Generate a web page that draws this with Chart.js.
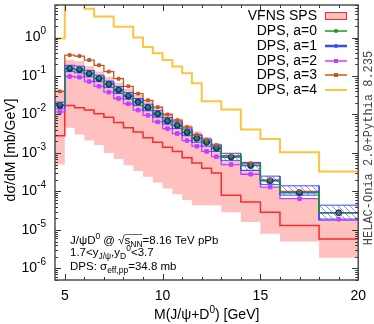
<!DOCTYPE html>
<html>
<head>
<meta charset="utf-8">
<script src="https://cdn.jsdelivr.net/npm/chart.js@4.4.1/dist/chart.umd.min.js"></script>
<style>
  body { margin: 0; background: #fff; }
  canvas { display: block; }
</style>
</head>
<body>
<canvas id="chart" width="374" height="324"></canvas>
<script>
// bin edges in M(J/psi+D0) [GeV]
const binEdges = [4.5, 5, 5.5, 6, 6.5, 7, 7.5, 8, 8.5, 9, 9.5, 10, 10.5, 11, 11.5, 12, 12.5, 13, 14, 15, 16, 18, 20];

// VFNS SPS: central line and uncertainty band
const spsCentral = [0.0028, 0.017, 0.015, 0.013, 0.0105, 0.0085, 0.0062, 0.0045, 0.0035, 0.0025, 0.0019, 0.0014, 0.0011, 0.00075, 0.00055, 0.0004, 0.0003, 0.00008, 0.000053, 0.000029, 0.000013, 0.0000058];
const spsUpper = [0.043, 0.26, 0.24, 0.18, 0.13, 0.095, 0.066, 0.046, 0.032, 0.023, 0.016, 0.011, 0.0078, 0.0053, 0.0036, 0.0026, 0.0018, 0.0006, 0.00038, 0.00013, 0.000065, 0.000018];
const spsLower = [0.0005, 0.0045, 0.003, 0.0021, 0.0016, 0.001, 0.0007, 0.00048, 0.00034, 0.00024, 0.00017, 0.00012, 0.000085, 0.00006, 0.000044, 0.000044, 0.000044, 0.000029, 0.000016, 0.000008, 0.000005, 0.0000019];

// DPS for different a
const dpsA0 = [0.018, 0.16, 0.15, 0.118, 0.088, 0.062, 0.044, 0.031, 0.021, 0.0155, 0.0105, 0.0069, 0.0053, 0.0035, 0.0024, 0.0019, 0.00135, 0.0008, 0.00048, 0.00019, 0.000095, 0.000028];
const dpsA1 = [0.017, 0.155, 0.145, 0.115, 0.086, 0.061, 0.043, 0.030, 0.021, 0.0152, 0.0103, 0.0068, 0.0052, 0.0034, 0.0024, 0.0019, 0.00133, 0.00078, 0.00047, 0.00019, 0.000093, 0.000028];
const dpsA1Up = [0.021, 0.19, 0.18, 0.14, 0.105, 0.074, 0.053, 0.037, 0.026, 0.0185, 0.0126, 0.0083, 0.0064, 0.0042, 0.0029, 0.0023, 0.0016, 0.00098, 0.00057, 0.00025, 0.00014, 0.000044];
const dpsA1Down = [0.014, 0.13, 0.12, 0.095, 0.071, 0.05, 0.035, 0.025, 0.017, 0.0125, 0.0085, 0.0056, 0.0043, 0.0028, 0.0019, 0.0015, 0.0011, 0.00063, 0.00035, 0.00015, 0.00008, 0.000018];
const dpsA2 = [0.0117, 0.097, 0.093, 0.072, 0.054, 0.038, 0.026, 0.019, 0.013, 0.0095, 0.0064, 0.0043, 0.0032, 0.0021, 0.0015, 0.0011, 0.0008, 0.0005, 0.00028, 0.00013, 0.000065, 0.000019];
const dpsA3 = [0.040, 0.35, 0.33, 0.26, 0.19, 0.13, 0.085, 0.054, 0.035, 0.0234, 0.0155, 0.0100, 0.0071, 0.0047, 0.0030, 0.0022, 0.0016, 0.00085, 0.00054, 0.0002, 0.0001, 0.000028];
const dpsA4 = [0.95, 30, 12, 5.6, 3.5, 3.5, 1.9, 1.9, 1.0, 0.57, 0.39, 0.26, 0.176, 0.118, 0.065, 0.022, 0.022, 0.0134, 0.0041, 0.0023, 0.00104, 0.00033];

const xMajorTicks = [5, 10, 15, 20];
const yMajorTicks = [1e-6, 1e-5, 1e-4, 1e-3, 1e-2, 1e-1, 1];

const legendLabels = ['VFNS SPS', 'DPS, a=0', 'DPS, a=1', 'DPS, a=2', 'DPS, a=3', 'DPS, a=4'];

const RED = '#ff2a2a', PINK = 'rgba(255,150,150,0.6)', GREEN = '#1f9a1f', BLUE = '#3a4bff',
      MAGENTA = '#c040ff', ORANGE = '#cc5520', YELLOW = '#ffc43f';

function stepPts(vals) {
  const pts = [];
  vals.forEach((v, i) => {
    pts.push({ x: binEdges[i], y: v });
    pts.push({ x: binEdges[i + 1], y: v });
  });
  return pts;
}
function centerPts(vals) {
  return vals.map((v, i) => ({ x: (binEdges[i] + binEdges[i + 1]) / 2, y: v }));
}

// hatch pattern for the a=1 band
function hatch() {
  const c = document.createElement('canvas');
  c.width = 6; c.height = 6;
  const g = c.getContext('2d');
  g.strokeStyle = 'rgba(60,80,255,0.8)';
  g.lineWidth = 0.8;
  g.beginPath();
  g.moveTo(0, 0); g.lineTo(6, 6);
  g.moveTo(-3, 3); g.lineTo(3, 9);
  g.moveTo(3, -3); g.lineTo(9, 3);
  g.stroke();
  return g.createPattern(c, 'repeat');
}

function line(data, color, width, order, extra) {
  return Object.assign({ data: stepPts(data), borderColor: color, borderWidth: width, pointRadius: 0,
    fill: false, order: order }, extra || {});
}
function marks(data, color, style, r, order) {
  return { data: centerPts(data), showLine: false, pointStyle: style, pointRadius: r,
    backgroundColor: color, borderColor: color, borderWidth: 1, order: order };
}

// inner tick marks, frame and all the text pieces
const decor = {
  id: 'decor',
  afterDatasetsDraw(chart) {
    const { ctx, chartArea: a, scales: { x, y } } = chart;
    ctx.save();
    ctx.strokeStyle = '#333';
    ctx.lineWidth = 1;
    ctx.beginPath();
    for (let d = -7; d <= 0; d++) {
      for (let m = 1; m <= 9; m++) {
        const v = m * Math.pow(10, d);
        if (v < 5e-7 || v > 7) continue;
        const py = Math.round(y.getPixelForValue(v)) + 0.5;
        const len = m === 1 ? 6 : 3;
        ctx.moveTo(a.left, py); ctx.lineTo(a.left + len, py);
        ctx.moveTo(a.right, py); ctx.lineTo(a.right - len, py);
      }
    }
    for (let v = 5; v <= 20; v++) {
      const px = Math.round(x.getPixelForValue(v)) + 0.5;
      const len = v % 5 === 0 ? 6 : 3;
      ctx.moveTo(px, a.bottom); ctx.lineTo(px, a.bottom - len);
      ctx.moveTo(px, a.top); ctx.lineTo(px, a.top + len);
    }
    ctx.stroke();
    ctx.lineWidth = 1.4;
    ctx.strokeStyle = '#444';
    ctx.strokeRect(a.left, a.top, a.right - a.left, a.bottom - a.top);

    // y tick labels 10^n
    ctx.fillStyle = '#000';
    ctx.textBaseline = 'middle';
    yMajorTicks.forEach(v => {
      const py = y.getPixelForValue(v);
      const e = String(Math.round(Math.log10(v)));
      ctx.font = '10px "Liberation Sans", Arial, sans-serif';
      const ew = ctx.measureText(e).width;
      ctx.textAlign = 'left';
      ctx.fillText(e, 46 - ew, py - 6);
      ctx.font = '14px "Liberation Sans", Arial, sans-serif';
      ctx.textAlign = 'right';
      ctx.fillText('10', 46 - ew, py);
    });

    // axis titles
    ctx.font = '14px "Liberation Sans", Arial, sans-serif';
    ctx.textAlign = 'left';
    ctx.textBaseline = 'alphabetic';
    let tx = 154, ty = 319;
    const p1 = 'M(J/\u03c8+D', p2 = ') [GeV]';
    ctx.fillText(p1, tx, ty); tx += ctx.measureText(p1).width;
    ctx.font = '10px "Liberation Sans", Arial, sans-serif';
    ctx.fillText('0', tx, ty - 6); tx += ctx.measureText('0').width;
    ctx.font = '14px "Liberation Sans", Arial, sans-serif';
    ctx.fillText(p2, tx, ty);

    ctx.save();
    ctx.translate(15, 150);
    ctx.rotate(-Math.PI / 2);
    ctx.textAlign = 'center';
    ctx.fillText('d\u03c3/dM [mb/GeV]', 0, 0);
    ctx.restore();

    // generator tag on the right
    ctx.save();
    ctx.translate(372, 148);
    ctx.rotate(-Math.PI / 2);
    ctx.textAlign = 'center';
    ctx.fillStyle = '#444';
    ctx.font = '12px "Liberation Mono", "DejaVu Sans Mono", monospace';
    ctx.fillText('HELAC-Onia 2.0+Pythia 8.235', 0, 0);
    ctx.restore();

    // annotation
    const big = '11.5px "Liberation Sans", Arial, sans-serif';
    const small = '8.5px "Liberation Sans", Arial, sans-serif';
    function runs(list, x0, base) {
      let xx = x0;
      list.forEach(([t, kind]) => {
        ctx.font = kind ? small : big;
        const dy = kind === 'sup' ? -5 : kind === 'sub' ? 3 : 0;
        ctx.fillText(t, xx, base + dy);
        xx += ctx.measureText(t).width;
      });
      return xx;
    }
    ctx.fillStyle = '#000';
    ctx.textAlign = 'left';
    let xe = runs([['J/\u03c8D', 0], ['0', 'sup'], [' @ \u221a', 0]], 70, 244);
    ctx.font = big;
    const sw = ctx.measureText('s').width;
    ctx.lineWidth = 0.8;
    ctx.beginPath(); ctx.moveTo(xe, 234.5); ctx.lineTo(xe + sw + 12, 234.5); ctx.stroke();
    runs([['s', 0], ['NN', 'sub'], ['=8.16 TeV pPb', 0]], xe, 244);
    runs([['1.7<y', 0], ['J/\u03c8', 'sub'], [',y', 0], ['D', 'sub'], ['0', 'sup'], ['<3.7', 0]], 70, 256);
    runs([['DPS: \u03c3', 0], ['eff,pp', 'sub'], ['=34.8 mb', 0]], 70, 270);

    // legend
    ctx.font = '14px "Liberation Sans", Arial, sans-serif';
    ctx.textAlign = 'right';
    ctx.textBaseline = 'middle';
    const rows = [16, 31, 46, 61, 75, 90];
    const cols = [null, GREEN, BLUE, MAGENTA, ORANGE, YELLOW];
    legendLabels.forEach((t, i) => {
      const ry = rows[i];
      ctx.fillStyle = '#000';
      ctx.fillText(t, 317, ry);
      if (i === 0) {
        ctx.fillStyle = PINK;
        ctx.fillRect(325, ry - 4, 22, 8);
        ctx.strokeStyle = RED; ctx.lineWidth = 1;
        ctx.strokeRect(325.5, ry - 3.5, 21, 7);
        return;
      }
      ctx.strokeStyle = cols[i];
      ctx.lineWidth = i === 2 ? 2.5 : (i === 5 ? 2 : 1.5);
      ctx.beginPath(); ctx.moveTo(325, ry); ctx.lineTo(347, ry); ctx.stroke();
      if (i < 5) {
        ctx.fillStyle = cols[i];
        if (i === 3 || i === 4) ctx.fillRect(334, ry - 2, 4, 4);
        else { ctx.beginPath(); ctx.arc(336, ry, 2, 0, Math.PI * 2); ctx.fill(); }
      }
    });
    ctx.restore();
  }
};

const ctx = document.getElementById('chart').getContext('2d');
new Chart(ctx, {
  type: 'line',
  data: {
    datasets: [
      // SPS band (upper filled down to lower) and central line
      line(spsUpper, 'rgba(0,0,0,0)', 0, 20, { fill: '+1', backgroundColor: PINK }),
      line(spsLower, 'rgba(0,0,0,0)', 0, 21),
      line(spsCentral, RED, 1.5, 10),
      // a=4
      line(dpsA4, YELLOW, 2, 9),
      // a=2
      line(dpsA2, MAGENTA, 1.3, 8),
      marks(dpsA2, MAGENTA, 'rect', 2.5, 1),
      // a=3
      line(dpsA3, ORANGE, 1.3, 7),
      marks(dpsA3, ORANGE, 'rect', 2, 1),
      // a=1 band and line
      line(dpsA1Up, BLUE, 1, 6, { fill: '+1', backgroundColor: hatch() }),
      line(dpsA1Down, BLUE, 1, 6),
      line(dpsA1, BLUE, 1.5, 5),
      marks(dpsA1, '#1a2a9a', 'circle', 3, 2),
      // a=0
      line(dpsA0, GREEN, 1, 4),
      marks(dpsA0, GREEN, 'circle', 1.4, 0)
    ]
  },
  options: {
    responsive: false,
    animation: false,
    layout: { padding: { top: 1, right: 12, left: 0, bottom: 0 } },
    elements: { line: { tension: 0 } },
    plugins: { legend: { display: false }, tooltip: { enabled: false } },
    scales: {
      x: {
        type: 'linear', min: 4.5, max: 20,
        afterBuildTicks: s => { s.ticks = xMajorTicks.map(v => ({ value: v })); },
        afterFit: s => { s.height = 44; },
        grid: { display: false, drawTicks: false },
        border: { display: false },
        ticks: { padding: 8, color: '#000', font: { family: '"Liberation Sans", Arial, sans-serif', size: 14 },
          callback: v => String(v) }
      },
      y: {
        type: 'logarithmic', min: 5e-7, max: 7,
        afterFit: s => { s.width = 55; },
        grid: { display: false, drawTicks: false },
        border: { display: false },
        ticks: { display: false }
      }
    }
  },
  plugins: [decor]
});
</script>
</body>
</html>
